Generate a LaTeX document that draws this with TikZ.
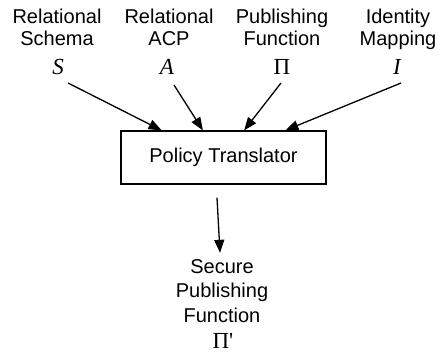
\documentclass[tikz,border=0pt]{standalone}
\usepackage{fontspec}
\setmainfont{Liberation Sans}
\newfontfamily\tms{Liberation Serif}
\usetikzlibrary{arrows.meta,calc}
\tikzset{
  lbl/.style={inner sep=0pt, align=center, font=\fontsize{20}{22}\selectfont},
  olbl/.style={inner sep=0pt, align=center, font=\fontsize{20}{24.5}\selectfont},
  sym/.style={inner sep=0pt, font=\tms\fontsize{23}{25}\selectfont},
  boxst/.style={draw, line width=1.3pt, minimum width=205pt, minimum height=53pt, inner sep=0pt, font=\fontsize{20}{22}\selectfont},
  arr/.style={line width=1.3pt, -{Triangle[length=13pt,width=10pt]}}
}
\begin{document}
\begin{tikzpicture}[x=1pt,y=-1pt]
\useasboundingbox (0,0) rectangle (438,357);
\node[lbl, anchor=base] (tS) at (57,45) {Relational\\Schema};
\node[lbl, anchor=base] (tA) at (169,45) {Relational\\ACP};
\node[lbl, anchor=base] (tP) at (282,45) {Publishing\\Function};
\node[lbl, anchor=base] (tI) at (398,45) {Identity\\Mapping};
\node[sym, anchor=base] (S) at (58,74) {\itshape S};
\node[sym, anchor=base] (A) at (167,74) {\itshape A};
\node[sym, anchor=base] (P) at (282,74) {Π};
\node[sym, anchor=base] (I) at (397,74) {\itshape I};
\node[boxst] (box) at (223.5,157.5) {Policy Translator};
\node[olbl, anchor=base] (out) at (222,322) {Secure\\Publishing\\Function};
\node[sym, anchor=base] (outP) at (223,348) {Π\textquotesingle};
\coordinate (sS) at ([xshift=10pt,yshift=-9pt]S.base);
\coordinate (sA) at ([xshift=7pt,yshift=-11pt]A.base);
\coordinate (sP) at ([xshift=-1pt,yshift=-9pt]P.base);
\coordinate (sI) at ([xshift=4pt,yshift=-9pt]I.base);
\draw[arr] (sS) -- ($(box.north west)!0.2!(box.north east)$);
\draw[arr] (sA) -- ($(box.north west)!0.4!(box.north east)$);
\draw[arr] (sP) -- ($(box.north west)!0.6!(box.north east)$);
\draw[arr] (sI) -- ($(box.north west)!0.8!(box.north east)$);
\coordinate (sO) at ([xshift=-6.5pt,yshift=-13pt]box.south);
\coordinate (eO) at ([xshift=-2pt,yshift=6pt]out.north);
\draw[arr] (sO) -- (eO);
\end{tikzpicture}
\end{document}
